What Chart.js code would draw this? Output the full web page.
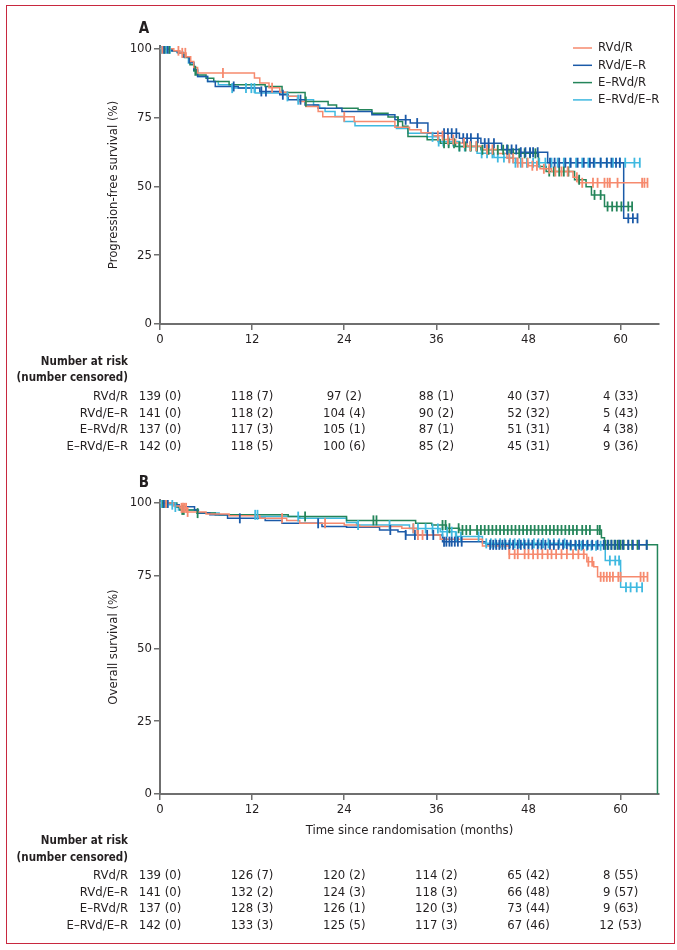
<!DOCTYPE html>
<html>
<head>
<meta charset="utf-8">
<script src="https://cdn.jsdelivr.net/npm/chart.js@4.4.1/dist/chart.umd.min.js"></script>
<style>
  body { margin: 0; background: #fff; }
  #frame { position: absolute; left: 6px; top: 5px; width: 669px; height: 939px; box-sizing: border-box; border: 1.5px solid #c8283f; }
  .panel { position: absolute; left: 0; width: 677px; }
</style>
</head>
<body>
<div id="frame"></div>
<div class="panel" style="top:0;height:470px"><canvas id="pfs"></canvas></div>
<div class="panel" style="top:470px;height:480px"><canvas id="os"></canvas></div>
<script>
// groups and axis ticks
const groups = ['RVd/R', 'RVd/E–R', 'E–RVd/R', 'E–RVd/E–R']
const colors = ['#f68a6e', '#1b5aa8', '#24855a', '#3fb9e0']
const months = [0, 12, 24, 36, 48, 60]
const yTicks = [0, 25, 50, 75, 100]

// Panel A - progression-free survival, [month, %] after each drop
const pfsRVdR = [[0,100],[1.8,99.3],[2.6,98.5],[3.4,97.1],[4.0,95.4],[4.4,93.2],[4.9,91.2],[12.3,89.4],[13.0,87.6],[14.2,85.8],[15.6,84.2],[16.6,82.7],[18.0,80.8],[19.0,79.0],[20.6,77.2],[21.2,75.3],[25.3,73.6],[30.6,71.5],[32.5,70.6],[34.0,69.5],[35.5,68.4],[37.0,67.0],[38.5,65.8],[40.0,64.6],[42.0,63.4],[44.0,61.9],[45.2,60.2],[46.5,58.6],[48.0,57.5],[49.5,56.4],[51.0,55.4],[53.8,53.3],[54.5,51.3],[63.5,51.3]]
const pfsRVdER = [[0,100],[1.5,99.3],[2.3,98.6],[3.0,97.1],[3.8,95.0],[4.4,92.5],[4.9,89.9],[6.2,88.1],[7.2,86.3],[10.2,85.7],[13.0,84.5],[15.6,83.3],[16.7,81.5],[18.9,79.6],[20.6,78.4],[23.7,77.2],[27.6,76.0],[30.6,74.2],[32.6,73.0],[34.9,69.3],[39.0,67.5],[41.8,65.7],[44.5,63.4],[46.8,62.4],[50.5,58.6],[60.4,38.4],[62.2,38.4]]
const pfsERVdR = [[0,100],[1.6,99.3],[2.4,98.5],[3.2,96.8],[3.9,94.2],[4.4,92.0],[4.8,90.5],[6.0,89.3],[7.0,88.1],[9.0,86.9],[13.7,86.3],[15.9,84.1],[18.9,80.8],[21.9,79.6],[23.0,78.4],[25.8,77.8],[27.6,76.6],[29.7,75.2],[31.0,73.6],[31.6,71.8],[32.3,68.1],[34.8,66.9],[36.5,65.7],[38.5,64.5],[41.8,63.3],[45.6,62.0],[49.3,57.2],[50.3,55.4],[54.0,52.4],[55.5,49.9],[56.2,46.9],[57.9,42.7],[61.5,42.7]]
const pfsERVdER = [[0,100],[1.4,99.3],[2.2,98.6],[3.0,97.0],[3.7,94.8],[4.4,92.0],[4.9,89.9],[6.2,88.1],[7.6,86.9],[9.4,85.7],[12.4,83.9],[16.6,82.7],[17.9,81.5],[20.0,79.6],[20.8,78.4],[21.5,77.2],[22.8,75.4],[24.0,73.6],[25.4,72.0],[30.8,71.0],[32.3,69.3],[34.8,68.0],[36.2,66.3],[39.0,64.5],[41.3,62.0],[43.5,60.5],[46.0,58.6],[62.5,58.6]]

// censoring times (months)
const pfsCensRVdR = [0.3,2.4,2.9,3.3,8.2,14.6,24.0,36.2,36.8,37.5,38.2,39.6,40.4,41.2,42.6,43.3,45.5,46.0,46.6,47.2,47.9,48.5,49.1,50.0,50.7,51.5,52.3,53.1,54.3,55.0,56.4,57.0,57.9,58.3,58.6,59.6,62.8,63.1,63.5]
const pfsCensRVdER = [0.5,1.0,9.6,13.2,13.8,16.0,18.3,32.0,33.5,37.0,37.5,38.0,38.6,39.5,40.0,40.5,41.4,42.3,42.8,43.5,45.2,45.8,46.4,47.0,47.6,48.2,48.6,49.2,50.8,51.4,52.0,52.8,53.5,54.4,55.2,56.0,56.5,57.4,58.2,58.8,59.4,59.9,61.0,61.6,62.2]
const pfsCensERVdR = [0.6,1.2,4.6,19.0,31.0,37.0,37.6,38.3,39.0,39.8,40.5,41.3,42.0,42.8,43.4,44.0,44.7,45.3,46.0,46.8,47.5,48.2,48.9,50.7,51.3,52.0,52.6,53.2,54.6,56.6,57.4,58.3,58.9,59.5,60.1,61.0,61.5]
const pfsCensERVdER = [0.2,0.8,1.3,9.4,11.2,11.9,12.3,16.6,18.0,35.5,36.3,36.9,37.6,38.2,39.0,39.7,40.4,41.2,41.9,42.6,43.3,44.0,44.8,45.5,46.3,47.0,47.8,48.6,49.4,50.2,51.0,51.8,52.6,53.4,54.2,55.0,55.8,56.6,57.4,58.2,59.0,59.9,60.6,61.8,62.5]

// Panel B - overall survival
const osRVdR = [[0,100],[1.8,98.9],[2.6,98.3],[3.5,96.9],[6.0,96.2],[9.0,95.6],[13.0,94.7],[16.5,94.0],[18.2,93.0],[24.0,92.4],[26.0,91.9],[31.5,91.3],[33.5,89.0],[36.5,87.5],[42.0,85.2],[45.5,82.4],[55.6,79.8],[56.5,78.1],[57.0,74.6],[63.5,74.6]]
const osRVdER = [[0,100],[1.8,99.4],[2.5,98.7],[4.5,97.6],[5.0,96.5],[6.5,95.9],[8.8,94.7],[13.7,94.0],[15.9,93.0],[21.1,91.9],[24.3,91.6],[28.6,90.7],[31.0,90.1],[32.0,89.0],[36.8,86.7],[42.5,85.6],[63.4,85.6]]
const osERVdR = [[0,100],[2.2,98.6],[2.6,97.6],[4.8,96.5],[7.2,95.9],[16.7,95.3],[24.3,94.0],[33.3,93.0],[35.4,92.4],[37.3,91.3],[39.0,90.7],[57.5,88.0],[57.9,85.6],[64.8,0]]
const osERVdER = [[0,100],[1.2,99.4],[2.0,98.6],[2.4,97.6],[4.8,96.5],[7.7,95.9],[12.9,95.3],[18.2,94.7],[24.3,93.3],[25.6,92.4],[32.5,91.2],[36.5,90.1],[38.5,88.5],[42.0,86.1],[53.3,85.3],[58.0,80.2],[60.0,71.0],[62.8,71.0]]

const osCensRVdR = [0.8,2.8,3.0,3.2,3.4,3.6,15.9,21.5,33.0,33.6,34.2,45.5,46.2,46.6,47.5,48.0,48.6,49.2,49.8,50.5,51.0,51.6,52.3,53.0,53.8,54.5,55.2,55.8,56.3,57.4,57.8,58.2,58.6,59.0,59.7,60.0,62.6,63.0,63.5]
const osCensRVdER = [0.5,1.0,10.4,20.6,30.0,32.0,33.2,34.8,35.6,37.0,37.3,37.7,38.0,38.4,38.8,39.3,43.0,43.4,43.8,44.2,44.6,45.0,45.5,46.0,46.6,47.0,47.5,48.0,48.5,49.2,49.7,50.2,50.8,51.3,51.9,52.5,53.0,53.5,54.1,54.6,55.1,55.7,56.3,57.0,57.8,58.3,58.8,59.3,59.8,60.3,61.0,61.6,62.4,63.4]
const osCensERVdR = [0.4,0.8,2.9,3.1,4.9,18.9,27.8,28.2,36.8,37.2,37.7,38.9,39.4,39.9,40.4,41.3,41.8,42.3,42.8,43.3,43.8,44.3,44.8,45.3,45.8,46.3,46.8,47.3,47.8,48.3,48.8,49.3,49.8,50.3,50.8,51.3,51.8,52.3,52.8,53.3,53.8,54.3,55.0,55.5,56.0,57.0,57.3,58.0,58.4,58.8,59.2,59.6,60.0,60.4,61.0,61.5,62.2,63.4]
const osCensERVdER = [0.2,0.5,1.0,1.6,2.0,12.4,12.7,18.0,25.8,29.9,33.0,33.6,34.6,35.5,36.2,36.8,37.4,38.0,38.6,39.2,41.5,42.5,43.1,43.7,44.3,44.9,45.6,46.2,46.8,47.4,48.0,48.7,49.3,49.9,50.6,51.3,52.0,52.7,53.5,54.2,54.9,55.6,56.2,56.8,57.4,58.6,59.3,59.8,60.7,61.3,62.1,62.8]

// number at risk (number censored) at 0, 12, 24, 36, 48, 60 months
const pfsAtRisk = [[139,118,97,88,40,4],[141,118,104,90,52,5],[137,117,105,87,51,4],[142,118,100,85,45,9]]
const pfsCensored = [[0,7,2,1,37,33],[0,2,4,2,32,43],[0,3,1,1,31,38],[0,5,6,2,31,36]]
const osAtRisk = [[139,126,120,114,65,8],[141,132,124,118,66,9],[137,128,126,120,73,9],[142,133,125,117,67,12]]
const osCensored = [[0,7,2,2,42,55],[0,2,3,3,48,57],[0,3,1,3,44,63],[0,3,5,3,46,53]]

const FONT = "'DejaVu Sans Condensed', 'Liberation Sans', sans-serif"
const TEXT = '#231f20'
const AXIS = '#6f6f6f'

function survAt(steps, t) {
  let s = steps[0][1]
  for (const p of steps) { if (p[0] <= t) s = p[1] }
  return s
}

function buildDatasets(curves, censors) {
  const lines = curves.map((c, i) => ({
    type: 'line',
    label: groups[i],
    data: c.map(p => ({ x: p[0], y: p[1] })),
    borderColor: colors[i],
    borderWidth: 1.5,
    stepped: true,
    pointRadius: 0,
    fill: false
  }))
  const marks = censors.map((c, i) => ({
    type: 'scatter',
    label: groups[i] + ' censored',
    data: c.map(t => ({ x: t, y: survAt(curves[i], t) })),
    borderColor: colors[i],
    backgroundColor: colors[i],
    borderWidth: 1.8,
    pointStyle: 'line',
    rotation: 90,
    pointRadius: 5,
    pointHoverRadius: 5
  }))
  return [...marks, ...lines]
}

// draws the panel letter, legend and the at-risk table under the x axis
const extras = {
  id: 'extras',
  afterDraw(chart, args, opts) {
    const ctx = chart.ctx
    const x = chart.scales.x
    ctx.save()
    ctx.fillStyle = TEXT
    ctx.font = 'bold 15px ' + FONT
    ctx.textAlign = 'center'
    ctx.textBaseline = 'alphabetic'
    ctx.fillText(opts.letter, 144, opts.letterY)

    if (opts.legend) {
      ctx.font = '13px ' + FONT
      ctx.textAlign = 'left'
      ctx.textBaseline = 'middle'
      groups.forEach((g, i) => {
        const y = 48 + i * 17.3
        ctx.strokeStyle = colors[i]
        ctx.lineWidth = 1.5
        ctx.beginPath()
        ctx.moveTo(573, y)
        ctx.lineTo(592, y)
        ctx.stroke()
        ctx.fillText(g, 598, y)
      })
    }

    const ys = opts.rowY
    ctx.textBaseline = 'middle'
    ctx.textAlign = 'right'
    ctx.font = 'bold 11.5px ' + FONT
    ctx.fillText('Number at risk', 128, ys[0])
    ctx.fillText('(number censored)', 128, ys[1])
    ctx.font = '13px ' + FONT
    groups.forEach((g, i) => {
      const y = ys[i + 2]
      ctx.textAlign = 'right'
      ctx.fillText(g, 128, y)
      ctx.textAlign = 'center'
      months.forEach((m, j) => {
        ctx.fillText(opts.atRisk[i][j] + ' (' + opts.censored[i][j] + ')', x.getPixelForValue(m), y)
      })
    })
    ctx.restore()
  }
}

function makeChart(id, curves, censors, cfg) {
  new Chart(document.getElementById(id), {
    type: 'scatter',
    data: { datasets: buildDatasets(curves, censors) },
    plugins: [extras],
    options: {
      responsive: true,
      maintainAspectRatio: false,
      animation: false,
      events: [],
      layout: { padding: cfg.padding },
      plugins: {
        legend: { display: false },
        tooltip: { enabled: false },
        extras: cfg.extras
      },
      scales: {
        x: {
          type: 'linear',
          min: 0,
          max: 65,
          afterBuildTicks: s => { s.ticks = months.map(v => ({ value: v })) },
          afterFit: s => { s.height = 44 },
          grid: { drawOnChartArea: false, tickLength: 6, color: AXIS, lineWidth: 1.5 },
          border: { color: AXIS, width: 2 },
          ticks: { color: TEXT, font: { family: FONT, size: 13 }, padding: 2, maxRotation: 0 },
          title: { display: !!cfg.xTitle, text: cfg.xTitle || '', color: TEXT, font: { family: FONT, size: 13 }, padding: 0 }
        },
        y: {
          min: 0,
          max: 101,
          afterBuildTicks: s => { s.ticks = yTicks.map(v => ({ value: v })) },
          afterFit: s => { s.width = 54 },
          grid: { drawOnChartArea: false, tickLength: 6, color: AXIS, lineWidth: 1.5 },
          border: { color: AXIS, width: 2 },
          ticks: { color: TEXT, font: { family: FONT, size: 13 }, padding: 2 },
          title: { display: true, text: cfg.yTitle, color: TEXT, font: { family: FONT, size: 13 }, padding: 0 }
        }
      }
    }
  })
}

makeChart('pfs', [pfsRVdR, pfsRVdER, pfsERVdR, pfsERVdER],
  [pfsCensRVdR, pfsCensRVdER, pfsCensERVdR, pfsCensERVdER], {
  padding: { left: 106, right: 18, top: 46, bottom: 102 },
  yTitle: 'Progression-free survival (%)',
  extras: { letter: 'A', letterY: 33, legend: true, atRisk: pfsAtRisk, censored: pfsCensored, rowY: [362, 378, 397, 413.5, 430, 446.5] }
})

makeChart('os', [osRVdR, osRVdER, osERVdR, osERVdER],
  [osCensRVdR, osCensRVdER, osCensERVdR, osCensERVdER], {
  padding: { left: 106, right: 18, top: 30, bottom: 112 },
  yTitle: 'Overall survival (%)',
  xTitle: 'Time since randomisation (months)',
  extras: { letter: 'B', letterY: 17, legend: false, atRisk: osAtRisk, censored: osCensored, rowY: [371, 388, 406, 422.5, 439, 455.5] }
})
</script>
</body>
</html>
